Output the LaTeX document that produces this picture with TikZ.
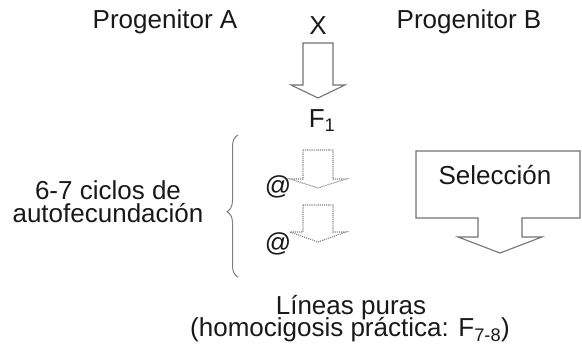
\documentclass[tikz,border=0pt]{standalone}
\usepackage{fontspec}
\setmainfont{Liberation Sans}
\usetikzlibrary{decorations.pathreplacing}
\begin{document}
\begin{tikzpicture}[x=1pt,y=-1pt,
  lbl/.style={inner sep=0pt, anchor=base, font=\fontsize{26}{24}\selectfont, text=black!90},
  blk/.style={draw=black!55, line width=1.1pt, line join=miter, fill=white},
  dotblk/.style={draw=black!50, line width=1.1pt, densely dotted, fill=white},
  brc/.style={draw=black!50, line width=1pt, decorate, decoration={brace, amplitude=11pt, aspect=0.46}}]
\useasboundingbox (0,0) rectangle (582,352);
% top labels
\node[lbl] (pa) at (165,29) {Progenitor A};
\node[lbl] (x) at (318,35) {X};
\node[lbl] (pb) at (469,29) {Progenitor B};
% main arrow
\draw[blk] (303,43) -- (333,43) -- (333,85) -- (345,85) -- (318,98) -- (291,85) -- (303,85) -- cycle;
\node[lbl] (f1) at (322,128) {F\textsubscript{1}};
% left text
\node[lbl] (c1) at (108,200) {6-7 ciclos de};
\node[lbl] (c2) at (108,223) {autofecundación};
% brace
\coordinate (bb) at (238,277);
\coordinate (bt) at (238,135);
\draw[brc] (bb) -- (bt);
% small dotted arrows
\draw[dotblk] (303,150) -- (333,150) -- (333,179) -- (346,179) -- (318,188) -- (290,179) -- (303,179) -- cycle;
\draw[dotblk] (303,205) -- (333,205) -- (333,232) -- (346,232) -- (318,242) -- (290,232) -- (303,232) -- cycle;
\node[lbl] (at1) at (278,195) {@};
\node[lbl] (at2) at (278,252) {@};
% seleccion arrow box
\draw[blk] (416,151) -- (580,151) -- (580,218) -- (522,218) -- (522,237) -- (542,237) -- (500,253) -- (458,237) -- (478,237) -- (478,218) -- (416,218) -- cycle;
\node[lbl] (sel) at (495,185) {Selección};
% bottom text
\node[lbl] (lp) at (351,315) {Líneas puras};
\node[lbl] (hp) at (350,337) {(homocigosis práctica: F\textsubscript{7-8})};
\end{tikzpicture}
\end{document}
